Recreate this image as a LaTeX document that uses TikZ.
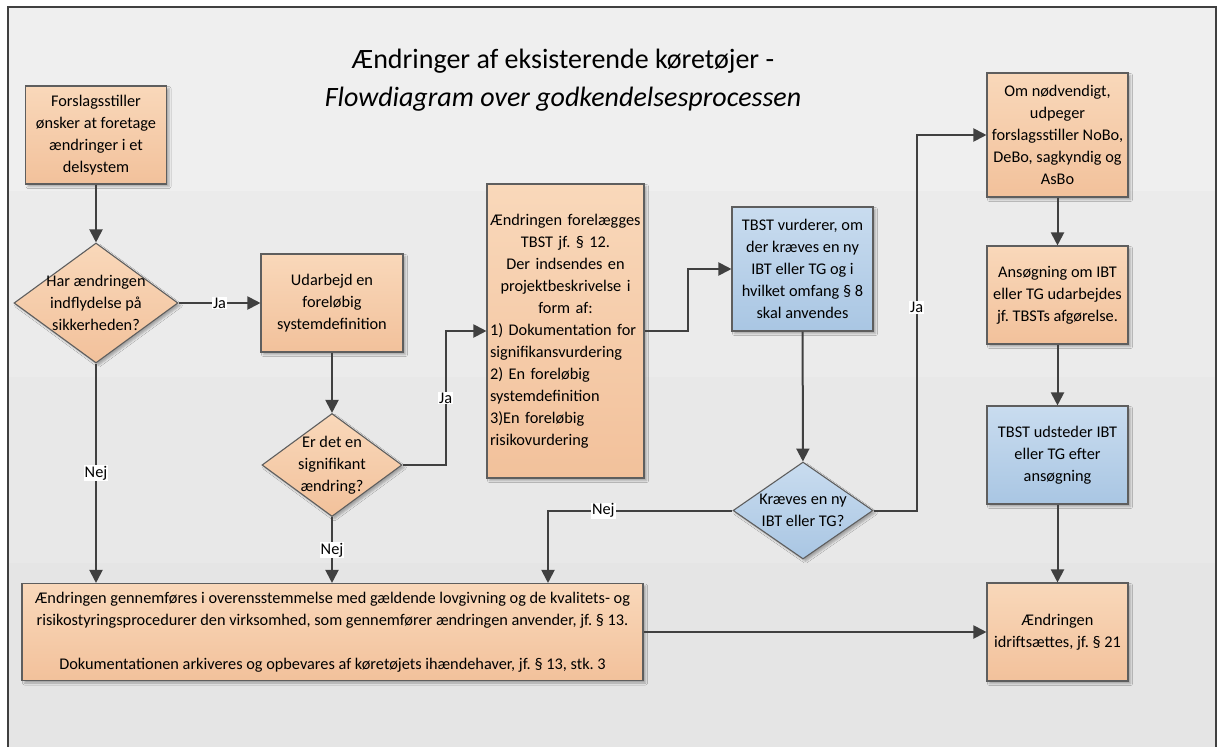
\documentclass[tikz,border=0pt]{standalone}
\usepackage{fontspec}
\setmainfont{Carlito}
\usepackage{tikz}
\usetikzlibrary{arrows.meta}
\usetikzlibrary{calc,shadows.blur,positioning}
\usetikzlibrary{shapes.geometric}
\frenchspacing

\definecolor{orangetop}{HTML}{F9D8BA}
\definecolor{orangebot}{HTML}{F2C19B}
\definecolor{bluetop}{HTML}{C9DCEF}
\definecolor{bluebot}{HTML}{A9C6E3}
\definecolor{linegray}{HTML}{404040}
\definecolor{edgegray}{HTML}{5E5E5E}
\definecolor{bandA}{HTML}{EFEFEF}
\definecolor{bandB}{HTML}{EBEBEB}
\definecolor{bandC}{HTML}{E8E8E8}
\definecolor{bandD}{HTML}{E5E5E5}

\begin{document}
\begin{tikzpicture}[x=1pt, y=-1pt,
	flownode/.style = {align=center, inner sep=3pt, font=\fontsize{16.3}{22}\selectfont, draw=edgegray, line width=1.1pt, blur shadow={shadow xshift=2.5pt, shadow yshift=-2.5pt, shadow blur radius=2pt, shadow opacity=30}},
	orangebox/.style = {flownode, rectangle, top color=orangetop, bottom color=orangebot, minimum width=141pt, minimum height=98pt},
	bluebox/.style = {flownode, rectangle, top color=bluetop, bottom color=bluebot, minimum width=141pt, minimum height=98pt},
	decision/.style = {flownode, diamond, inner sep=0pt, top color=orangetop, bottom color=orangebot},
	bluedecision/.style = {decision, top color=bluetop, bottom color=bluebot},
	qtext/.style = {align=center, inner sep=0pt, font=\fontsize{16.3}{22}\selectfont},
	flow/.style = {draw=linegray, line width=2pt, -{Triangle[length=13pt,width=13pt]}},
	answer/.style = {fill=white, inner sep=1pt, font=\fontsize{16.3}{18}\selectfont},
	]
	\useasboundingbox (0,0) rectangle (1221,747);
	\fill[white] (0,0) rectangle (1221,747);
	\fill[bandA] (8,7) rectangle (1216,191);
	\fill[bandB] (8,191) rectangle (1216,377);
	\fill[bandC] (8,377) rectangle (1216,563);
	\fill[bandD] (8,563) rectangle (1216,747);
	\draw[linegray, line width=1.2pt] (8,747) -- (8,7) -- (1216,7) -- (1216,747);

	\node (title) [align=center, font=\fontsize{28}{38}\selectfont] at (563,80)
		{Ændringer af eksisterende køretøjer -\\\textit{Flowdiagram over godkendelsesprocessen}};

	\node (start) [orangebox] at (96,135) {Forslagsstiller\\ønsker at foretage\\ændringer i et\\delsystem};
	\node (safety) [decision, minimum width=164pt, minimum height=120pt,
		label={[qtext]center:{Har ændringen\\indflydelse på\\sikkerheden?}}] at (96,303) {};
	\node (sysdef) [orangebox, minimum width=142pt] at (332,303) {Udarbejd en\\foreløbig\\systemdefinition};
	\node (signif) [decision, minimum width=140pt, minimum height=103pt,
		label={[qtext]center:{Er det en\\signifikant\\ændring?}}] at (332,465) {};
	\node (submit) [orangebox, minimum width=157pt, minimum height=294pt, text width=151pt, align=left] at (565.5,331)
		{\centering Ændringen forelægges\\TBST jf. § 12.\\Der indsendes en\\projektbeskrivelse i\\form af:\par
		\raggedright 1) Dokumentation for\\signifikansvurdering\\2) En foreløbig\\systemdefinition\\3)En foreløbig\\risikovurdering\par};
	\node (assess) [bluebox, minimum height=124pt] at (802.5,269) {TBST vurderer, om\\der kræves en ny\\IBT eller TG og i\\hvilket omfang § 8\\skal anvendes};
	\node (newibt) [bluedecision, minimum width=140pt, minimum height=97pt,
		label={[qtext]center:{Kræves en ny\\IBT eller TG?}}] at (803,510.5) {};
	\node (appoint) [orangebox, minimum height=124pt] at (1057.5,135) {Om nødvendigt,\\udpeger\\forslagsstiller NoBo,\\DeBo, sagkyndig og\\AsBo};
	\node (apply) [orangebox] at (1057.5,295) {Ansøgning om IBT\\eller TG udarbejdes\\jf. TBSTs afgørelse.};
	\node (issue) [bluebox] at (1057.5,455) {TBST udsteder IBT\\eller TG efter\\ansøgning};
	\node (operate) [orangebox] at (1057.5,632) {Ændringen\\idriftsættes, jf. § 21};
	\node (execute) [orangebox, minimum width=621pt, minimum height=97pt] at (332.5,632)
		{Ændringen gennemføres i overensstemmelse med gældende lovgivning og de kvalitets- og\\
		risikostyringsprocedurer den virksomhed, som gennemfører ændringen anvender, jf. § 13.\\~\\
		Dokumentationen arkiveres og opbevares af køretøjets ihændehaver, jf. § 13, stk. 3};
	\coordinate (nejx) at (548,583);

	\draw[flow] (start) -- (safety);
	\draw[flow] (safety) -- node[answer] {Ja} (sysdef);
	\draw[flow] (safety.south) -- node[answer] {Nej} (safety.south |- execute.north);
	\draw[flow] (sysdef) -- (signif);
	\draw[flow] (signif.south) -- node[answer] {Nej} (signif.south |- execute.north);
	\draw[flow] (signif.east) -- ++(43,0) |- node[answer, pos=0.25] {Ja} (submit.west);
	\draw[flow] (submit.east) -- ++(43,0) |- (assess.west);
	\draw[flow] (assess) -- (newibt);
	\draw[flow] (newibt.east) -- ++(43,0) |- node[answer, pos=0.27] {Ja} (appoint.west);
	\draw[flow] (newibt.west) -| node[answer, pos=0.35] {Nej} (nejx |- execute.north);
	\draw[flow] (appoint) -- (apply);
	\draw[flow] (apply) -- (issue);
	\draw[flow] (issue) -- (operate);
	\draw[flow] (execute) -- (operate);
\end{tikzpicture}
\end{document}
